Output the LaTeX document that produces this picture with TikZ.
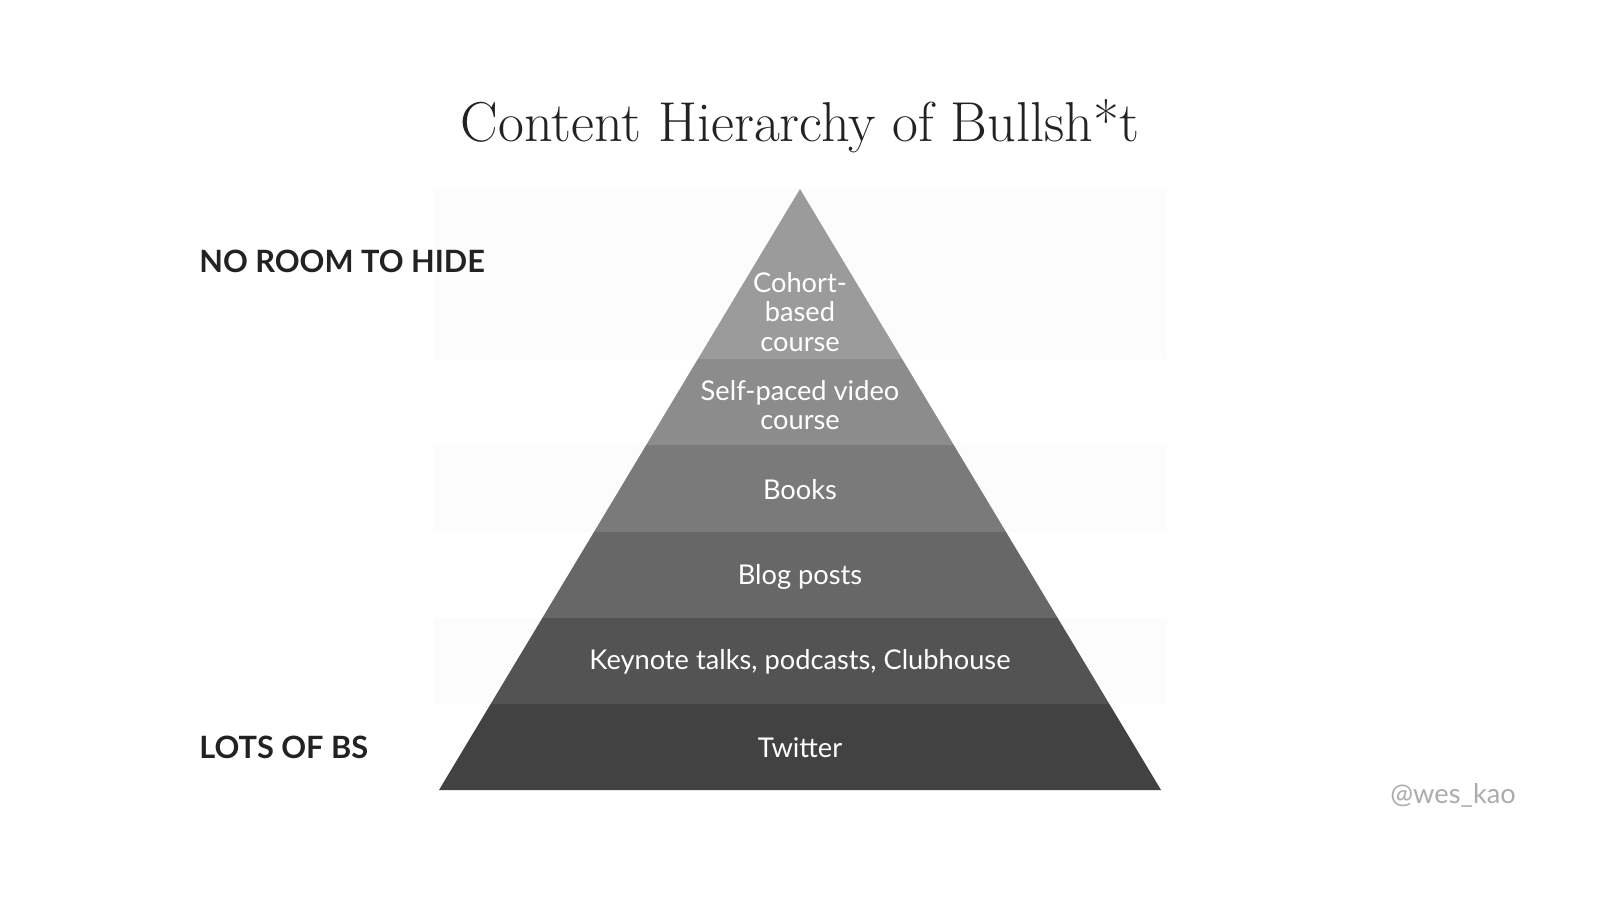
\documentclass[tikz,border=0pt]{standalone}
\usepackage{fontspec}
\usepackage{tikz}
\newfontfamily\labelfont{Lato}
\definecolor{bandA}{RGB}{155,155,155}
\definecolor{bandB}{RGB}{140,140,140}
\definecolor{bandC}{RGB}{122,122,122}
\definecolor{bandD}{RGB}{103,103,103}
\definecolor{bandE}{RGB}{83,83,83}
\definecolor{bandF}{RGB}{66,66,66}
\definecolor{stripegray}{RGB}{252,252,252}
\definecolor{titlegray}{RGB}{34,34,34}
\definecolor{markgray}{RGB}{172,172,172}

\begin{document}
\begin{tikzpicture}[x=0.02cm,y=-0.02cm,
       band label/.style={text=white,align=center,
         font=\labelfont\fontsize{15.5}{16.8}\selectfont},
       side label/.style={anchor=base west,inner sep=0pt,text=titlegray,
         font=\labelfont\bfseries\fontsize{17.5}{20}\selectfont},
       title/.style={anchor=base,text=titlegray,
         font=\fontsize{32}{36}\selectfont}]
    \useasboundingbox[fill=white] (0,0) rectangle (1600,900);
    % faint stripes behind the pyramid
    \fill[stripegray] (434,189) rectangle (1167,359);
    \fill[stripegray] (434,445) rectangle (1167,532);
    \fill[stripegray] (434,618) rectangle (1167,704);
    % pyramid corners
    \coordinate (apex) at (800,189);
    \coordinate (baseL) at (439,790);
    \coordinate (baseR) at (1161,790);
    \begin{scope}
      \clip (apex) -- (baseL) -- (baseR) -- cycle;
      \fill[bandA] (434,180) rectangle (1167,359);
      \fill[bandB] (434,359) rectangle (1167,445);
      \fill[bandC] (434,445) rectangle (1167,532);
      \fill[bandD] (434,532) rectangle (1167,618);
      \fill[bandE] (434,618) rectangle (1167,704);
      \fill[bandF] (434,704) rectangle (1167,795);
    \end{scope}
    % labels
    \node[title] (heading) at (800,141) {Content Hierarchy of Bullsh*t};
    \node[band label] (cohort) at (800,312) {Cohort-\\based\\course};
    \node[band label] (selfpaced) at (800,405) {Self-paced video\\course};
    \node[band label] (books) at (800,490) {Books};
    \node[band label] (blog) at (800,577) {Blog posts};
    \node[band label] (keynote) at (800,662) {Keynote talks, podcasts, Clubhouse};
    \node[band label] (twitter) at (800,748) {Twitter};
    \node[side label] (noroom) at (199,272) {NO ROOM TO HIDE};
    \node[side label] (lots) at (199,758) {LOTS OF BS};
    \node[anchor=base west,inner sep=0pt,text=markgray,
      font=\labelfont\fontsize{15.5}{18}\selectfont] (handle) at (1390,803) {@wes\_kao};
\end{tikzpicture}
\end{document}
